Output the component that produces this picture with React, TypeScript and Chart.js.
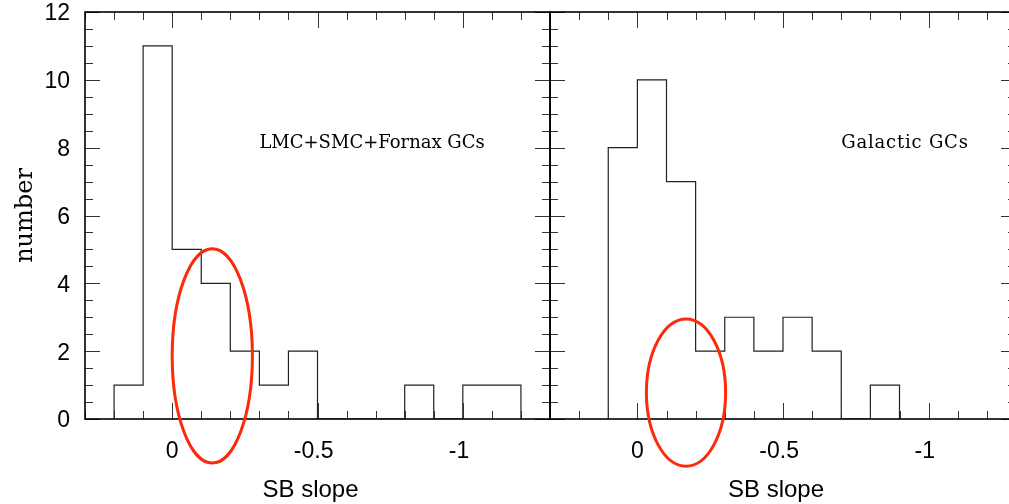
import { useEffect, useRef } from 'react';
import { Chart, registerables } from 'chart.js';

Chart.register(...registerables);

// Histogram bins (SB slope, bin width 0.1) and counts per bin
const lmcEdges = [0.2, 0.1, 0, -0.1, -0.2, -0.3, -0.4, -0.5, -0.6, -0.7, -0.8, -0.9, -1.0, -1.1, -1.2];
const lmcCounts = [1, 11, 5, 4, 2, 1, 2, 0, 0, 0, 1, 0, 1, 1];
const galEdges = [0.1, 0, -0.1, -0.2, -0.3, -0.4, -0.5, -0.6, -0.7, -0.8, -0.9];
const galCounts = [8, 10, 7, 2, 3, 2, 3, 2, 0, 1];

// Axes
const xRange = [-1.3, 0.3];
const yRange = [0, 12];
const xTickValues = [0, -0.5, -1];
const xTickLabels = ['0', '-0.5', '-1'];
const yTickValues = [0, 2, 4, 6, 8, 10, 12];
const yTickLabels = ['0', '2', '4', '6', '8', '10', '12'];
const xTitle = 'SB slope';
const yTitle = 'number';

// Panel captions, anchored in data units (left edge, baseline)
const lmcCaption = 'LMC+SMC+Fornax GCs';
const lmcCaptionAt = { x: -0.3, y: 8 };
const galCaption = 'Galactic GCs';
const galCaptionAt = { x: -0.7, y: 8 };

// Highlighted regions: centre and half-axes in data units
const lmcRing = { cx: -0.138, cy: 1.86, rx: 0.138, ry: 3.16 };
const galRing = { cx: -0.167, cy: 0.78, rx: 0.136, ry: 2.17 };

type Ring = { cx: number; cy: number; rx: number; ry: number };

// Outline of a histogram: vertical edges up/down, flat tops
function outline(edges: number[], counts: number[]) {
  const pts: { x: number; y: number }[] = [{ x: edges[0], y: 0 }];
  counts.forEach((c, i) => {
    pts.push({ x: edges[i], y: c });
    pts.push({ x: edges[i + 1], y: c });
  });
  pts.push({ x: edges[edges.length - 1], y: 0 });
  return pts;
}

type PanelOpts = {
  caption: string;
  captionAt: { x: number; y: number };
  captionSpacing: number;
  ring: Ring;
  yAxisText: boolean;
};

const panelPlugin = {
  id: 'panelDecor',
  afterDraw(chart: any, _args: any, opts: PanelOpts) {
    const { ctx, chartArea: a } = chart;
    const x = chart.scales.x;
    const y = chart.scales.y;
    ctx.save();

    // inward tick marks on all four sides
    ctx.strokeStyle = '#333';
    ctx.lineWidth = 1;
    const seg = (x1: number, y1: number, x2: number, y2: number) => {
      ctx.beginPath();
      ctx.moveTo(x1, y1);
      ctx.lineTo(x2, y2);
      ctx.stroke();
    };
    const k0 = Math.ceil(x.min * 10 - 1e-6);
    const k1 = Math.floor(x.max * 10 + 1e-6);
    for (let k = k0; k <= k1; k++) {
      const px = Math.round(x.getPixelForValue(k / 10)) + 0.5;
      const len = k % 5 === 0 ? 16 : 8;
      seg(px, a.bottom, px, a.bottom - len);
      seg(px, a.top, px, a.top + len);
    }
    const n = Math.round((y.max - y.min) / 0.5);
    for (let k = 0; k <= n; k++) {
      const v = y.min + k * 0.5;
      const py = Math.round(y.getPixelForValue(v)) + 0.5;
      const len = k % 4 === 0 ? 15 : 8;
      seg(a.left, py, a.left + len, py);
      seg(a.right, py, a.right - len, py);
    }

    // frame
    ctx.strokeStyle = '#000';
    ctx.lineWidth = 1.6;
    ctx.strokeRect(a.left, a.top, a.right - a.left, a.bottom - a.top);

    // x tick labels (digits centred on the tick, minus sign hanging left)
    ctx.fillStyle = '#000';
    ctx.font = '23px "Liberation Sans", Arial, sans-serif';
    ctx.textAlign = 'center';
    ctx.textBaseline = 'alphabetic';
    const minusW = ctx.measureText('-').width;
    xTickValues.forEach((v, i) => {
      const label = xTickLabels[i];
      const shift = label.startsWith('-') ? minusW / 2 : 0;
      ctx.fillText(label, x.getPixelForValue(v) - shift, a.bottom + 39);
    });

    // x axis title
    ctx.font = '24px "Liberation Sans", Arial, sans-serif';
    ctx.fillText(xTitle, (a.left + a.right) / 2 - 7, a.bottom + 78);

    if (opts.yAxisText) {
      // y tick labels
      ctx.font = '23px "Liberation Sans", Arial, sans-serif';
      ctx.textAlign = 'right';
      ctx.textBaseline = 'middle';
      yTickValues.forEach((v, i) => {
        ctx.fillText(yTickLabels[i], a.left - 15, y.getPixelForValue(v) + 2);
      });

      // y axis title
      ctx.save();
      ctx.translate(32, (a.top + a.bottom) / 2);
      ctx.rotate(-Math.PI / 2);
      ctx.font = '24px "DejaVu Serif", serif';
      ctx.textAlign = 'center';
      ctx.textBaseline = 'alphabetic';
      ctx.fillText(yTitle, 0, 0);
      ctx.restore();
    }

    // caption
    ctx.save();
    ctx.font = '18px "DejaVu Serif", serif';
    ctx.textAlign = 'left';
    ctx.textBaseline = 'alphabetic';
    (ctx as any).letterSpacing = `${opts.captionSpacing}px`;
    ctx.fillText(opts.caption, x.getPixelForValue(opts.captionAt.x), y.getPixelForValue(opts.captionAt.y));
    ctx.restore();

    // highlighted region
    const r = opts.ring;
    const cx = x.getPixelForValue(r.cx);
    const cy = y.getPixelForValue(r.cy);
    const rx = Math.abs(x.getPixelForValue(r.cx + r.rx) - cx);
    const ry = Math.abs(y.getPixelForValue(r.cy + r.ry) - cy);
    ctx.strokeStyle = '#fb2a0a';
    ctx.lineWidth = 3;
    ctx.beginPath();
    ctx.ellipse(cx, cy, rx, ry, 0, 0, Math.PI * 2);
    ctx.stroke();

    ctx.restore();
  },
};

function Panel(props: {
  left: number;
  width: number;
  edges: number[];
  counts: number[];
  padding: { left: number; right: number; top: number; bottom: number };
  decor: PanelOpts;
}) {
  const ref = useRef<HTMLCanvasElement>(null);

  useEffect(() => {
    if (!ref.current) return;
    const chart = new Chart(ref.current, {
      type: 'line',
      data: {
        datasets: [
          {
            data: outline(props.edges, props.counts),
            borderColor: '#222',
            borderWidth: 1.2,
            pointRadius: 0,
            fill: false,
            tension: 0,
          },
        ],
      },
      options: {
        responsive: false,
        animation: false,
        events: [],
        layout: { padding: props.padding },
        plugins: {
          legend: { display: false },
          tooltip: { enabled: false },
          panelDecor: props.decor,
        } as any,
        scales: {
          x: {
            type: 'linear',
            display: false,
            min: xRange[0],
            max: xRange[1],
            reverse: true,
          },
          y: {
            type: 'linear',
            display: false,
            min: yRange[0],
            max: yRange[1],
          },
        },
      },
      plugins: [panelPlugin],
    });
    return () => chart.destroy();
  }, []);

  return (
    <canvas
      ref={ref}
      width={props.width}
      height={504}
      style={{ position: 'absolute', left: props.left, top: 0, width: props.width, height: 504 }}
    />
  );
}

export default function App() {
  return (
    <div
      style={{
        position: 'absolute',
        left: 0,
        top: 0,
        width: 1009,
        height: 504,
        overflow: 'hidden',
        background: '#fff',
      }}
    >
      <Panel
        left={0}
        width={560}
        edges={lmcEdges}
        counts={lmcCounts}
        padding={{ left: 85, right: 10, top: 12, bottom: 85 }}
        decor={{ caption: lmcCaption, captionAt: lmcCaptionAt, captionSpacing: 0, ring: lmcRing, yAxisText: true }}
      />
      <Panel
        left={540}
        width={490}
        edges={galEdges}
        counts={galCounts}
        padding={{ left: 10, right: 14, top: 12, bottom: 85 }}
        decor={{ caption: galCaption, captionAt: galCaptionAt, captionSpacing: 0.8, ring: galRing, yAxisText: false }}
      />
    </div>
  );
}
